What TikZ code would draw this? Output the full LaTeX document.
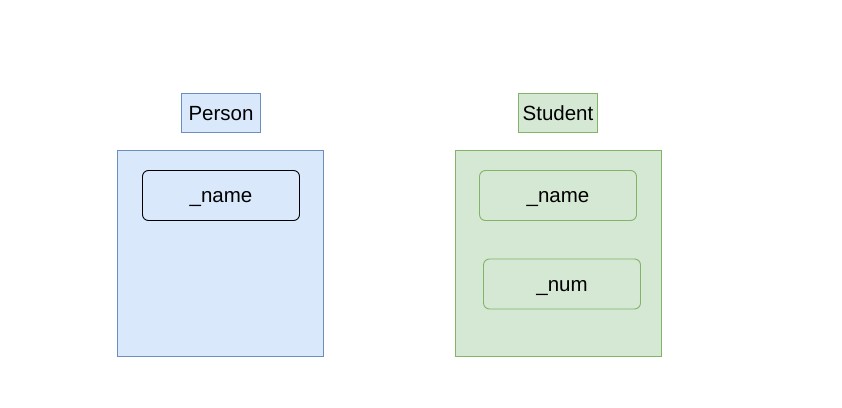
\documentclass[tikz,border=0pt]{standalone}
\usepackage{fontspec}
\setmainfont{Liberation Sans}
\definecolor{bluefill}{HTML}{DAE8FC}
\definecolor{bluedraw}{HTML}{6C8EBF}
\definecolor{greenfill}{HTML}{D5E8D4}
\definecolor{greendraw}{HTML}{82B366}
\tikzset{
  bluebox/.style={draw=bluedraw, fill=bluefill, line width=0.9pt, inner sep=0pt, text height=18pt, text depth=4pt},
  greenbox/.style={draw=greendraw, fill=greenfill, line width=0.9pt, inner sep=0pt, text height=18pt, text depth=4pt},
  field/.style={rounded corners=6pt, minimum width=157pt, minimum height=50pt},
}
\begin{document}
\begin{tikzpicture}[x=1pt, y=-1pt, font=\fontsize{20.5}{24}\selectfont]
  \useasboundingbox (0, 0) rectangle (842, 407);
  % Person
  \node[bluebox, minimum width=206pt, minimum height=206pt] (personbody) at (220.5, 253.5) {};
  \node[bluebox, minimum width=79pt, minimum height=39pt] (person) at (221, 113) {Person};
  \node[bluebox, field, draw=black] (pname) at (221, 195.5) {\_name};
  % Student
  \node[greenbox, minimum width=206pt, minimum height=206pt] (studentbody) at (558, 253.5) {};
  \node[greenbox, minimum width=79pt, minimum height=39pt] (student) at (558, 113) {Student};
  \node[greenbox, field] (sname) at (558, 195.5) {\_name};
  \node[greenbox, field] (snum) at (562, 284) {\_num};
\end{tikzpicture}
\end{document}
